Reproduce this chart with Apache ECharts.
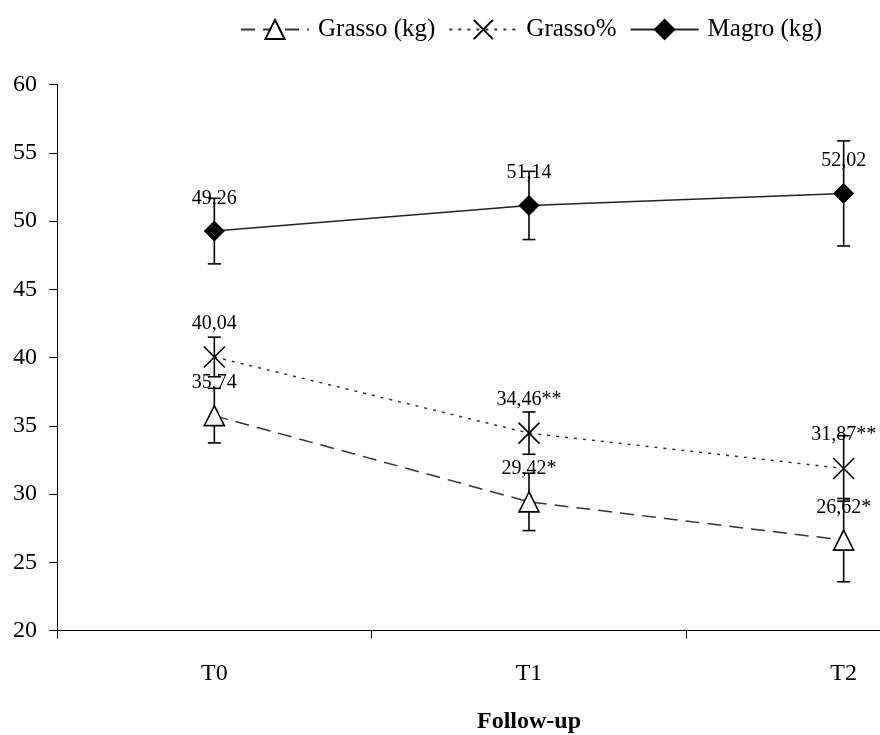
<!DOCTYPE html>
<html>
<head>
<meta charset="utf-8">
<title>Follow-up</title>
<script src="https://cdn.jsdelivr.net/npm/echarts@6/dist/echarts.min.js"></script>
<style>
  html, body { margin: 0; padding: 0; background: #fff; overflow: hidden; }
  /* The plot runs past the right edge of the window; the last band is cut off */
  #chart { width: 1010px; height: 735px; }
</style>
</head>
<body>
<div id="chart"></div>
<script>
// Time points of the follow-up
const categories = ['T0', 'T1', 'T2'];

// Mean values and standard deviations for each measure
const grassoKg = [35.74, 29.42, 26.62];
const grassoKgSd = [2.0, 2.1, 3.05];
const grassoKgMarks = ['', '*', '*'];

const grassoPct = [40.04, 34.46, 31.87];
const grassoPctSd = [1.45, 1.55, 2.4];
const grassoPctMarks = ['', '**', '**'];

const magroKg = [49.26, 51.14, 52.02];
const magroKgSd = [2.4, 2.5, 3.85];
const magroKgMarks = ['', '', ''];

// Y axis range and step
const yMin = 20, yMax = 60, yStep = 5;

const FONT = '"Liberation Serif", "Times New Roman", serif';

function fmt(v, marks) {
  return function (p) {
    return v[p.dataIndex].toFixed(2).replace('.', ',') + marks[p.dataIndex];
  };
}

function errorData(means, sds) {
  return means.map((m, i) => [i, m - sds[i], m + sds[i]]);
}

function errorSeries(means, sds) {
  return {
    type: 'custom',
    z: 1,
    silent: true,
    data: errorData(means, sds),
    renderItem: function (params, api) {
      const i = api.value(0);
      const lo = api.coord([i, api.value(1)]);
      const hi = api.coord([i, api.value(2)]);
      const w = 6.5;
      const style = { stroke: '#000', lineWidth: 1.6, fill: null };
      return {
        type: 'group',
        children: [
          { type: 'line', shape: { x1: lo[0], y1: lo[1], x2: hi[0], y2: hi[1] }, style: style },
          { type: 'line', shape: { x1: hi[0] - w, y1: hi[1], x2: hi[0] + w, y2: hi[1] }, style: style },
          { type: 'line', shape: { x1: lo[0] - w, y1: lo[1], x2: lo[0] + w, y2: lo[1] }, style: style }
        ]
      };
    }
  };
}

const labelStyle = {
  show: true,
  position: 'top',
  distance: 12,
  fontFamily: FONT,
  fontSize: 20,
  color: '#000'
};

const chart = echarts.init(document.getElementById('chart'), null, { renderer: 'canvas' });

chart.setOption({
  animation: false,
  backgroundColor: '#fff',
  textStyle: { fontFamily: FONT },
  legend: {
    data: ['Grasso (kg)', 'Grasso%', 'Magro (kg)'],
    top: 12,
    left: 235,
    itemWidth: 68,
    itemHeight: 24,
    itemGap: 13,
    textStyle: { fontFamily: FONT, fontSize: 25, color: '#000', padding: [0, 0, 0, 4] }
  },
  grid: { left: 57, top: 84.5, width: 944, height: 546, containLabel: false, outerBoundsMode: 'none' },
  xAxis: {
    type: 'category',
    data: categories,
    boundaryGap: true,
    name: 'Follow-up',
    nameLocation: 'middle',
    nameGap: 79,
    nameTextStyle: { fontFamily: FONT, fontSize: 24, fontWeight: 'bold', color: '#000' },
    axisLine: { lineStyle: { color: '#000', width: 1 } },
    axisTick: { show: true, length: 8, lineStyle: { color: '#000' } },
    axisLabel: { fontFamily: FONT, fontSize: 24, color: '#000', margin: 31 },
    splitLine: { show: false }
  },
  yAxis: {
    type: 'value',
    min: yMin,
    max: yMax,
    interval: yStep,
    axisLine: { show: true, lineStyle: { color: '#000', width: 1 } },
    axisTick: { show: true, length: 8, lineStyle: { color: '#000' } },
    axisLabel: { fontFamily: FONT, fontSize: 24, color: '#000', margin: 20 },
    splitLine: { show: false }
  },
  series: [
    errorSeries(grassoKg, grassoKgSd),
    errorSeries(grassoPct, grassoPctSd),
    errorSeries(magroKg, magroKgSd),
    {
      name: 'Grasso (kg)',
      type: 'line',
      z: 3,
      data: grassoKg,
      symbol: 'triangle',
      symbolSize: [20, 20],
      itemStyle: { color: '#fff', borderColor: '#000', borderWidth: 1.6 },
      lineStyle: { color: '#333', width: 1.5, type: [14, 8] },
      label: Object.assign({}, labelStyle, { formatter: fmt(grassoKg, grassoKgMarks) })
    },
    {
      name: 'Grasso%',
      type: 'line',
      z: 3,
      data: grassoPct,
      symbol: 'path://M0,0L20,20M20,0L0,20',
      symbolSize: 21,
      itemStyle: { color: '#000', borderColor: '#000', borderWidth: 1.6 },
      lineStyle: { color: '#333', width: 1.5, type: [3, 6] },
      label: Object.assign({}, labelStyle, { formatter: fmt(grassoPct, grassoPctMarks) })
    },
    {
      name: 'Magro (kg)',
      type: 'line',
      z: 3,
      data: magroKg,
      symbol: 'diamond',
      symbolSize: [20, 20],
      itemStyle: { color: '#000', borderColor: '#000', borderWidth: 1 },
      lineStyle: { color: '#222', width: 1.5, type: 'solid' },
      label: Object.assign({}, labelStyle, { formatter: fmt(magroKg, magroKgMarks) })
    }
  ]
});
</script>
</body>
</html>
